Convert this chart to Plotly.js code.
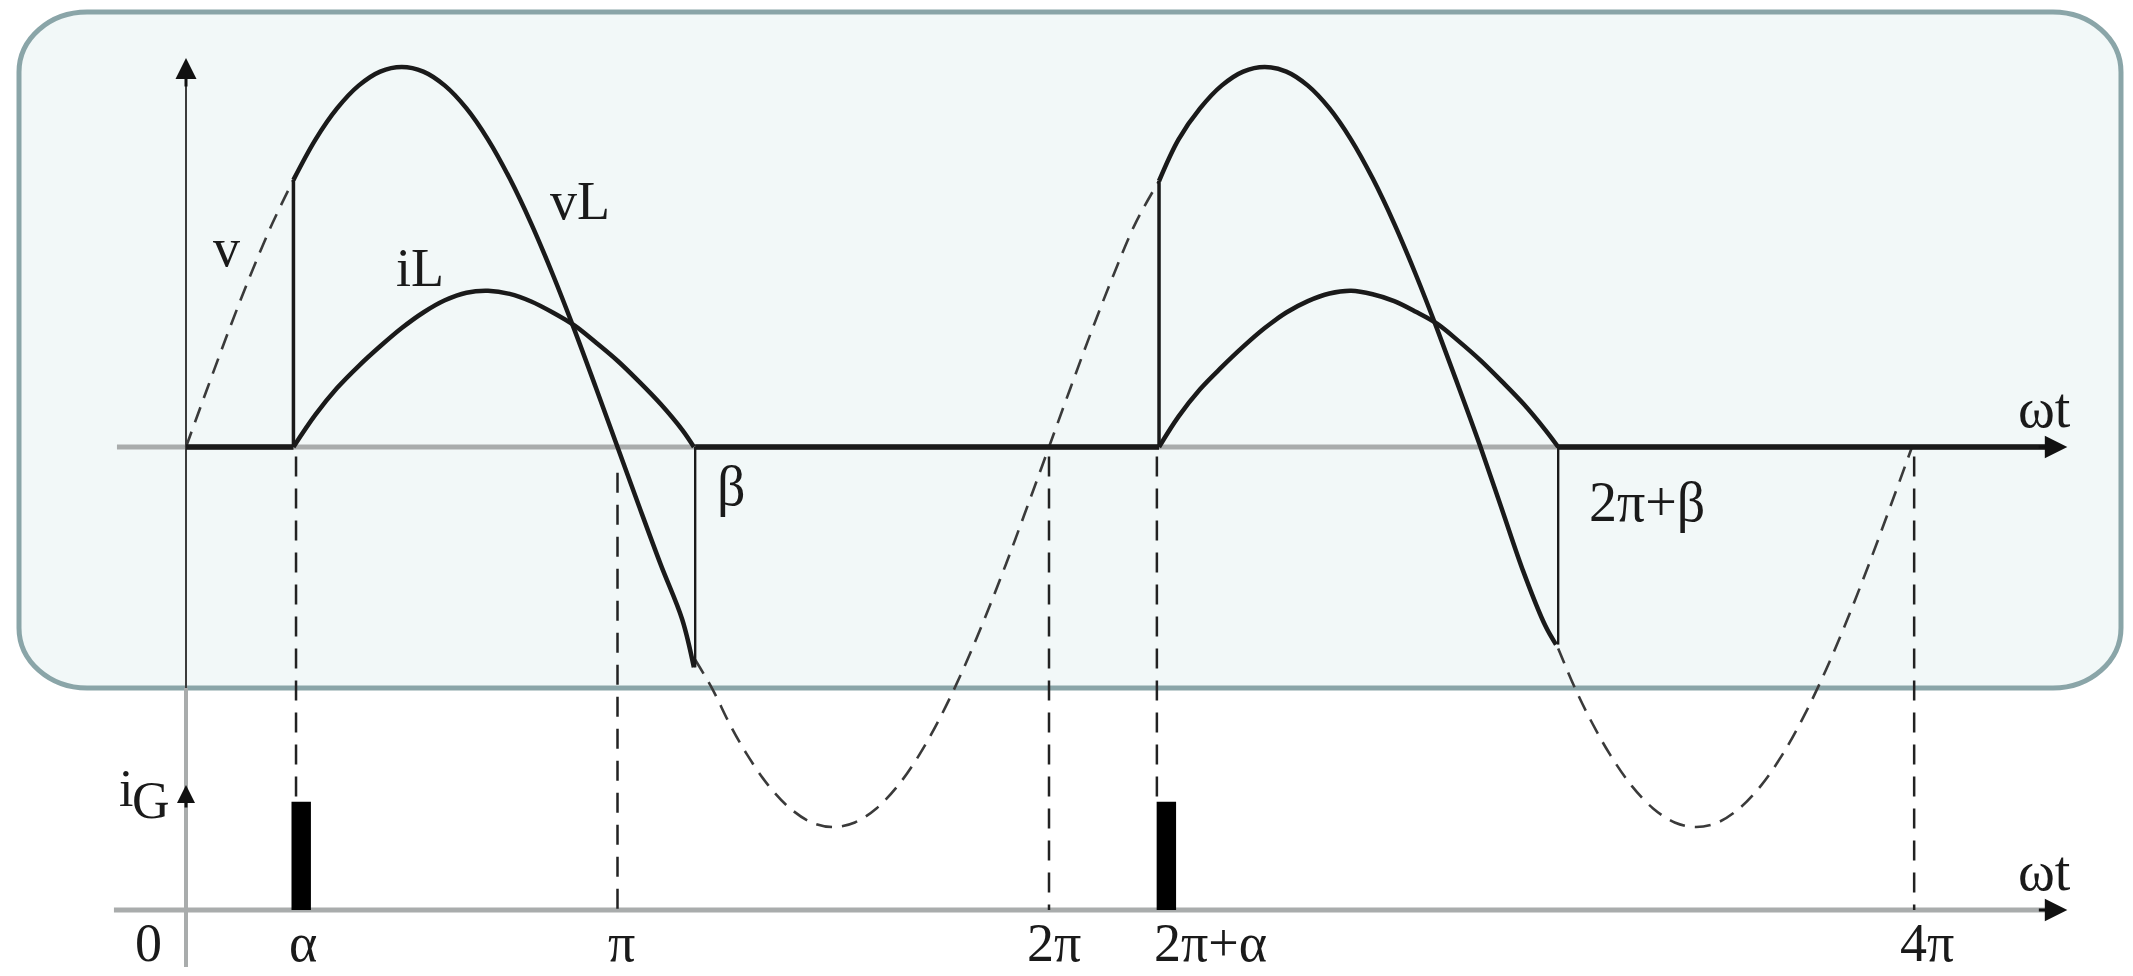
<!DOCTYPE html>
<html><head><meta charset="utf-8">
<script src="https://cdn.plot.ly/plotly-3.0.1.min.js"></script>
<style>html,body{margin:0;padding:0;background:#fff;overflow:hidden}</style>
</head><body><div id="chart" style="width:2133px;height:976px"></div>
<script>
// ---- data (x in units of pi, i.e. wt/pi; y in units of supply amplitude) ----
// supply voltage v, dashed where the thyristor is off
const vAx = [0, 0.05, 0.10, 0.15, 0.20, 0.249];
const vAy = [0, 0.156, 0.309, 0.454, 0.588, 0.703];
const vBx = [1.18, 1.22, 1.26, 1.30, 1.35, 1.40, 1.45, 1.50, 1.55, 1.60, 1.65, 1.70, 1.75, 1.80, 1.85, 1.90, 1.95, 2.00, 2.05, 2.10, 2.15, 2.20, 2.255];
const vBy = [-0.56, -0.637, -0.729, -0.809, -0.891, -0.951, -0.988, -1.00, -0.988, -0.951, -0.891, -0.809, -0.707, -0.588, -0.454, -0.309, -0.156, 0, 0.156, 0.309, 0.454, 0.588, 0.70];
const vCx = [3.18, 3.22, 3.26, 3.30, 3.35, 3.40, 3.45, 3.50, 3.55, 3.60, 3.65, 3.70, 3.75, 3.80, 3.85, 3.90, 3.95, 4.00];
const vCy = [-0.53, -0.637, -0.729, -0.809, -0.891, -0.951, -0.988, -1.00, -0.988, -0.951, -0.891, -0.809, -0.707, -0.588, -0.454, -0.309, -0.156, 0];
// load voltage vL during conduction
const vL1x = [0.249, 0.30, 0.35, 0.40, 0.45, 0.50, 0.55, 0.60, 0.65, 0.70, 0.75, 0.80, 0.85, 0.90, 0.95, 1.00, 1.05, 1.10, 1.15, 1.177];
const vL1y = [0.703, 0.809, 0.891, 0.951, 0.988, 1.00, 0.988, 0.951, 0.891, 0.809, 0.707, 0.588, 0.454, 0.309, 0.156, 0, -0.156, -0.309, -0.454, -0.58];
const vL2x = [2.255, 2.30, 2.35, 2.40, 2.45, 2.50, 2.55, 2.60, 2.65, 2.70, 2.75, 2.80, 2.85, 2.90, 2.95, 3.00, 3.05, 3.10, 3.15, 3.175];
const vL2y = [0.70, 0.809, 0.891, 0.951, 0.988, 1.00, 0.988, 0.951, 0.891, 0.809, 0.707, 0.588, 0.454, 0.309, 0.156, 0, -0.165, -0.33, -0.47, -0.52];
// vL = 0 while the thyristor blocks
const vLoffX = [0, 0.249, null, 1.18, 2.255, null, 3.18, 4.33];
const vLoffY = [0, 0, null, 0, 0, null, 0, 0];
// switching edges (firing at alpha, extinction at beta)
const edgeAx = [0.249, 0.249, null, 2.255, 2.255];
const edgeAy = [0, 0.703, null, 0, 0.70];
const edgeBx = [1.18, 1.18, null, 3.18, 3.18];
const edgeBy = [0, -0.58, null, 0, -0.52];
// load current iL
const iL1x = [0.249, 0.30, 0.35, 0.40, 0.45, 0.50, 0.55, 0.60, 0.65, 0.70, 0.75, 0.80, 0.85, 0.90, 0.95, 1.00, 1.05, 1.10, 1.15, 1.177];
const iL1y = [0, 0.085, 0.155, 0.213, 0.265, 0.313, 0.354, 0.386, 0.406, 0.411, 0.403, 0.383, 0.354, 0.320, 0.275, 0.227, 0.172, 0.113, 0.045, 0];
const iL2x = [2.255, 2.30, 2.35, 2.40, 2.45, 2.50, 2.55, 2.60, 2.65, 2.70, 2.75, 2.80, 2.85, 2.90, 2.95, 3.00, 3.05, 3.10, 3.15, 3.18];
const iL2y = [0, 0.080, 0.152, 0.210, 0.264, 0.313, 0.354, 0.384, 0.404, 0.411, 0.402, 0.384, 0.356, 0.324, 0.278, 0.228, 0.172, 0.113, 0.045, 0];
// gate pulses iG
const pulseX = [0.267, 2.272];
const pulseY = [0.285, 0.285];
// guide lines and tick labels
const tickVals = [0, 0.25, 1, 2, 2.25, 4];
const tickText = ['0', 'α', 'π', '2π', '2π+α', '4π'];
const guideVals = [0.255, 1.0, 2.0, 2.25, 4.005];

// ---- geometry ----
const W = 2133, H = 976;
const X0 = 186, PI_PX = 431.5, Y0 = 447, AMP = 380, YLOW = 910;
const xr = [-X0 / PI_PX, (W - X0) / PI_PX];
const yr = [(Y0 - H) / AMP, Y0 / AMP];
const y2r = [(YLOW - H) / AMP, YLOW / AMP];
const lowLevel = (Y0 - YLOW) / AMP;
const ink = '#1a1a1a';
const FONT = 'Liberation Serif, Times New Roman, serif';

const dashSty = {color: '#3a3a3a', width: 2.6, dash: '16px,10px', shape: 'spline', smoothing: 1};
const solid = {color: ink, width: 4.5, shape: 'spline', smoothing: 1};
const traces = [
  {x: vAx, y: vAy, mode: 'lines', line: dashSty},
  {x: vBx, y: vBy, mode: 'lines', line: dashSty},
  {x: vCx, y: vCy, mode: 'lines', line: dashSty},
  {x: vLoffX, y: vLoffY, mode: 'lines', line: {color: ink, width: 5.5}},
  {x: edgeAx, y: edgeAy, mode: 'lines', line: {color: ink, width: 3.5}},
  {x: edgeBx, y: edgeBy, mode: 'lines', line: {color: ink, width: 2.4}},
  {x: iL1x, y: iL1y, mode: 'lines', line: solid},
  {x: iL2x, y: iL2y, mode: 'lines', line: solid},
  {x: vL1x, y: vL1y, mode: 'lines', line: solid},
  {x: vL2x, y: vL2y, mode: 'lines', line: solid},
  {type: 'bar', x: pulseX, y: pulseY, base: 0, width: 0.045, yaxis: 'y2',
   marker: {color: '#000', line: {width: 0}}}
];

// rounded panel in paper coords (cubic-bezier corners)
const L = 19, R = 2121, T = 12, B = 688, rx = 68, ry = 60, k = 0.5523;
const px = v => (v / W).toFixed(5), py = v => (1 - v / H).toFixed(5);
const P = (x, y) => px(x) + ',' + py(y);
const panelPath = 'M' + P(L + rx, T) + ' L' + P(R - rx, T) +
  ' C' + P(R - rx + k * rx, T) + ' ' + P(R, T + ry - k * ry) + ' ' + P(R, T + ry) +
  ' L' + P(R, B - ry) +
  ' C' + P(R, B - ry + k * ry) + ' ' + P(R - rx + k * rx, B) + ' ' + P(R - rx, B) +
  ' L' + P(L + rx, B) +
  ' C' + P(L + rx - k * rx, B) + ' ' + P(L, B - ry + k * ry) + ' ' + P(L, B - ry) +
  ' L' + P(L, T + ry) +
  ' C' + P(L, T + ry - k * ry) + ' ' + P(L + rx - k * rx, T) + ' ' + P(L + rx, T) + ' Z';

const shapes = [
  {type: 'path', xref: 'paper', yref: 'paper', path: panelPath, layer: 'below',
   fillcolor: '#f2f8f8', line: {color: '#8aa5a8', width: 5}},
  // axes
  {type: 'line', xref: 'x', yref: 'y', x0: -0.16, x1: 4.33, y0: 0, y1: 0, layer: 'below', line: {color: '#a9acac', width: 5}},
  {type: 'line', xref: 'x', yref: 'y', x0: -0.167, x1: 4.33, y0: lowLevel, y1: lowLevel, layer: 'below', line: {color: '#a9acac', width: 5}},
  {type: 'line', xref: 'x', yref: 'y', x0: 0, x1: 0, y0: 1.0, y1: (Y0 - B) / AMP, layer: 'below', line: {color: '#3c3c3c', width: 2}},
  {type: 'line', xref: 'x', yref: 'y', x0: 0, x1: 0, y0: (Y0 - B) / AMP, y1: (Y0 - 967) / AMP, layer: 'below', line: {color: '#a9acac', width: 4}}
];
const guideDash = {color: '#222', width: 2.5, dash: '20px,12px'};
guideVals.forEach((g, i) => {
  const toPulse = (i === 0 || i === 3);
  shapes.push({type: 'line', xref: 'x', yref: 'y', x0: g, x1: g,
    y0: (i === 1 ? -0.068 : -0.025), y1: toPulse ? lowLevel + pulseY[0] : lowLevel,
    line: guideDash});
});

function arrow(x, y, ax, ay, size) {
  return {x: x, y: y, xref: 'x', yref: 'y', ax: ax, ay: ay, text: '', showarrow: true,
    arrowhead: 2, arrowsize: size || 1.5, arrowwidth: 3, arrowcolor: '#111', standoff: 0};
}
function lab(t, x, y, size, yanchor) {
  return {x: x, y: y, xref: 'x', yref: 'y', text: t, showarrow: false, xanchor: 'center', yanchor: yanchor || 'middle',
    font: {family: FONT, size: size || 56, color: '#1a1a1a'}};
}
const annotations = [
  arrow(4.36, 0, -30, 0),
  arrow(4.36, lowLevel, -30, 0),
  arrow(0, 1.024, 0, 30, 1.4),
  arrow(0, lowLevel + 0.329, 0, 24, 1.2),
  lab('v', 0.093, 0.524, 54),
  lab('vL', 0.913, 0.647, 54),
  lab('iL', 0.542, 0.471, 54),
  lab('β', 1.265, -0.103, 56),
  lab('2π+β', 3.386, -0.145, 56),
  lab('ωt', 4.306, 0.103, 56),
  lab('ωt', 4.306, lowLevel + 0.103, 56),
  lab('i', -0.138, lowLevel + 0.320, 52),
  lab('G', -0.080, lowLevel + 0.287, 52)
];
const tickShift = [-38, 9, 4, 5, 54, 15];
tickVals.forEach((v, i) => {
  const a = lab(tickText[i], v, (Y0 - 975) / AMP, 54, 'bottom');
  a.xshift = tickShift[i];
  annotations.push(a);
});

const layout = {
  width: W, height: H, margin: {l: 0, r: 0, t: 0, b: 0, pad: 0},
  paper_bgcolor: '#ffffff', plot_bgcolor: 'rgba(0,0,0,0)',
  showlegend: false, hovermode: false,
  xaxis: {range: xr, visible: false, fixedrange: true},
  yaxis: {range: yr, visible: false, fixedrange: true},
  yaxis2: {range: y2r, visible: false, overlaying: 'y', fixedrange: true},
  shapes: shapes, annotations: annotations
};
Plotly.newPlot('chart', traces, layout, {displayModeBar: false, staticPlot: true});
</script></body></html>
